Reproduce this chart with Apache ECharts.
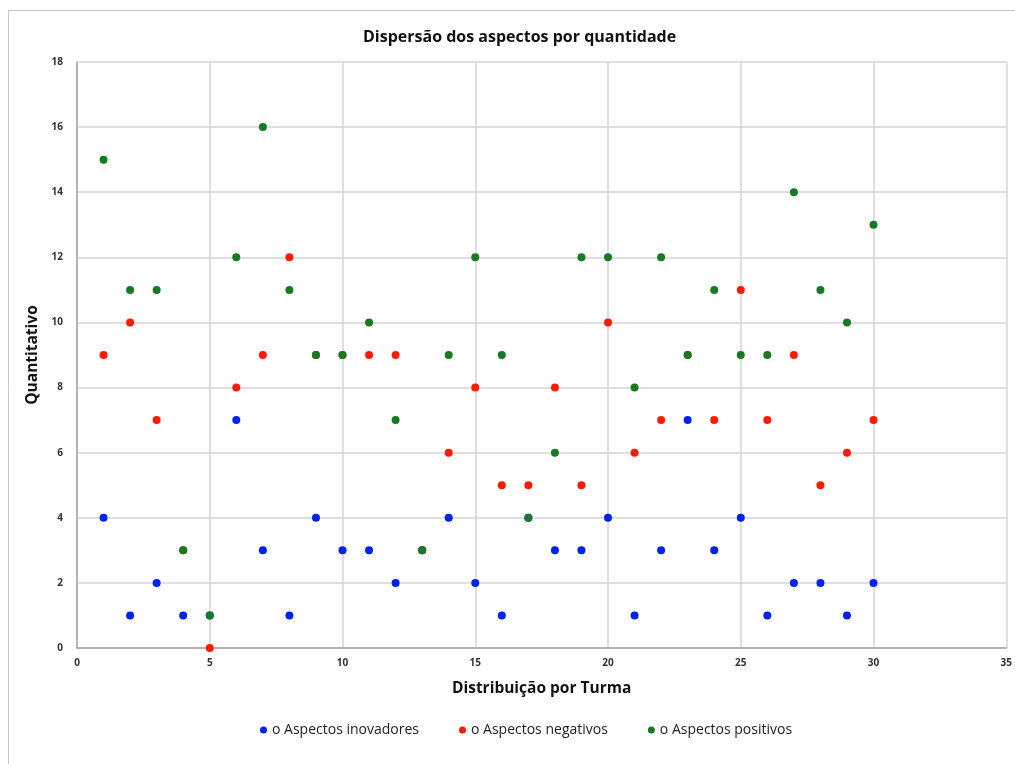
<!DOCTYPE html>
<html>
<head>
<meta charset="utf-8">
<script src="https://cdn.jsdelivr.net/npm/echarts@6/dist/echarts.min.js"></script>
<style>
  html, body { margin: 0; padding: 0; background: #fff; }
  #chart { width: 1015px; height: 764px; }
</style>
</head>
<body>
<div id="chart"></div>
<script>
// turmas 1..30
var turmas = [1,2,3,4,5,6,7,8,9,10,11,12,13,14,15,16,17,18,19,20,21,22,23,24,25,26,27,28,29,30];
var inovadores = [4,1,2,1,1,7,3,1,4,3,3,2,3,4,2,1,4,3,3,4,1,3,7,3,4,1,2,2,1,2];
var negativos  = [9,10,7,3,0,8,9,12,9,9,9,9,3,6,8,5,5,8,5,10,6,7,9,7,11,7,9,5,6,7];
var positivos  = [15,11,11,3,1,12,16,11,9,9,10,7,3,9,12,9,4,6,12,12,8,12,9,11,9,9,14,11,10,13];
var seriesNames = ['o Aspectos inovadores', 'o Aspectos negativos', 'o Aspectos positivos'];
var colors = ['#0022ee', '#ff1a00', '#157a22'];

function pares(vals) {
    var out = [];
    for (var i = 0; i < turmas.length; i++) out.push([turmas[i], vals[i]]);
    return out;
}

var myChart = echarts.init(document.getElementById('chart'));
var fonte = 'Open Sans, Liberation Sans, sans-serif';
var option = {
    animation: false,
    color: colors,
    title: {
        text: 'Dispersão dos aspectos por quantidade',
        left: 358,
        top: 24,
        textStyle: { fontFamily: fonte, fontSize: 16, fontWeight: 'bold', color: '#111' }
    },
    graphic: [{
        type: 'rect',
        shape: { x: 8.5, y: 10.5, width: 1030, height: 800 },
        style: { fill: 'none', stroke: '#c8c8c8', lineWidth: 1 },
        silent: true
    }],
    legend: {
        bottom: 22,
        left: 255,
        itemWidth: 7,
        itemHeight: 7,
        itemGap: 40,
        icon: 'circle',
        textStyle: { fontFamily: fonte, fontSize: 14, color: '#222' },
        data: seriesNames
    },
    grid: { left: 77, right: 7, top: 62, bottom: 116 },
    xAxis: {
        type: 'value',
        min: 0, max: 35, interval: 5,
        name: 'Distribuição por Turma',
        nameLocation: 'middle',
        nameGap: 33,
        nameTextStyle: { fontFamily: fonte, fontSize: 15.5, fontWeight: 'bold', color: '#111' },
        axisLine: { show: true, lineStyle: { color: '#a6a6a6', width: 1.5 } },
        axisTick: { show: false },
        axisLabel: { fontFamily: fonte, fontSize: 10, fontWeight: 'bold', color: '#333', margin: 10 },
        splitLine: { show: true, lineStyle: { color: '#d4d4d4', width: 1.5 } }
    },
    yAxis: {
        type: 'value',
        min: 0, max: 18, interval: 2,
        name: 'Quantitativo',
        nameLocation: 'middle',
        nameGap: 25,
        nameTextStyle: { fontFamily: fonte, fontSize: 15.5, fontWeight: 'bold', color: '#111' },
        axisLine: { show: true, lineStyle: { color: '#a6a6a6', width: 1.5 } },
        axisTick: { show: false },
        axisLabel: { fontFamily: fonte, fontSize: 10, fontWeight: 'bold', color: '#333', margin: 14 },
        splitLine: { show: true, lineStyle: { color: '#d4d4d4', width: 1.5 } }
    },
    series: [
        { name: seriesNames[0], type: 'scatter', symbolSize: 8, itemStyle: { opacity: 1 }, data: pares(inovadores) },
        { name: seriesNames[1], type: 'scatter', symbolSize: 8, itemStyle: { opacity: 1 }, data: pares(negativos) },
        { name: seriesNames[2], type: 'scatter', symbolSize: 8, itemStyle: { opacity: 1 }, data: pares(positivos) }
    ]
};
myChart.setOption(option);
</script>
</body>
</html>
